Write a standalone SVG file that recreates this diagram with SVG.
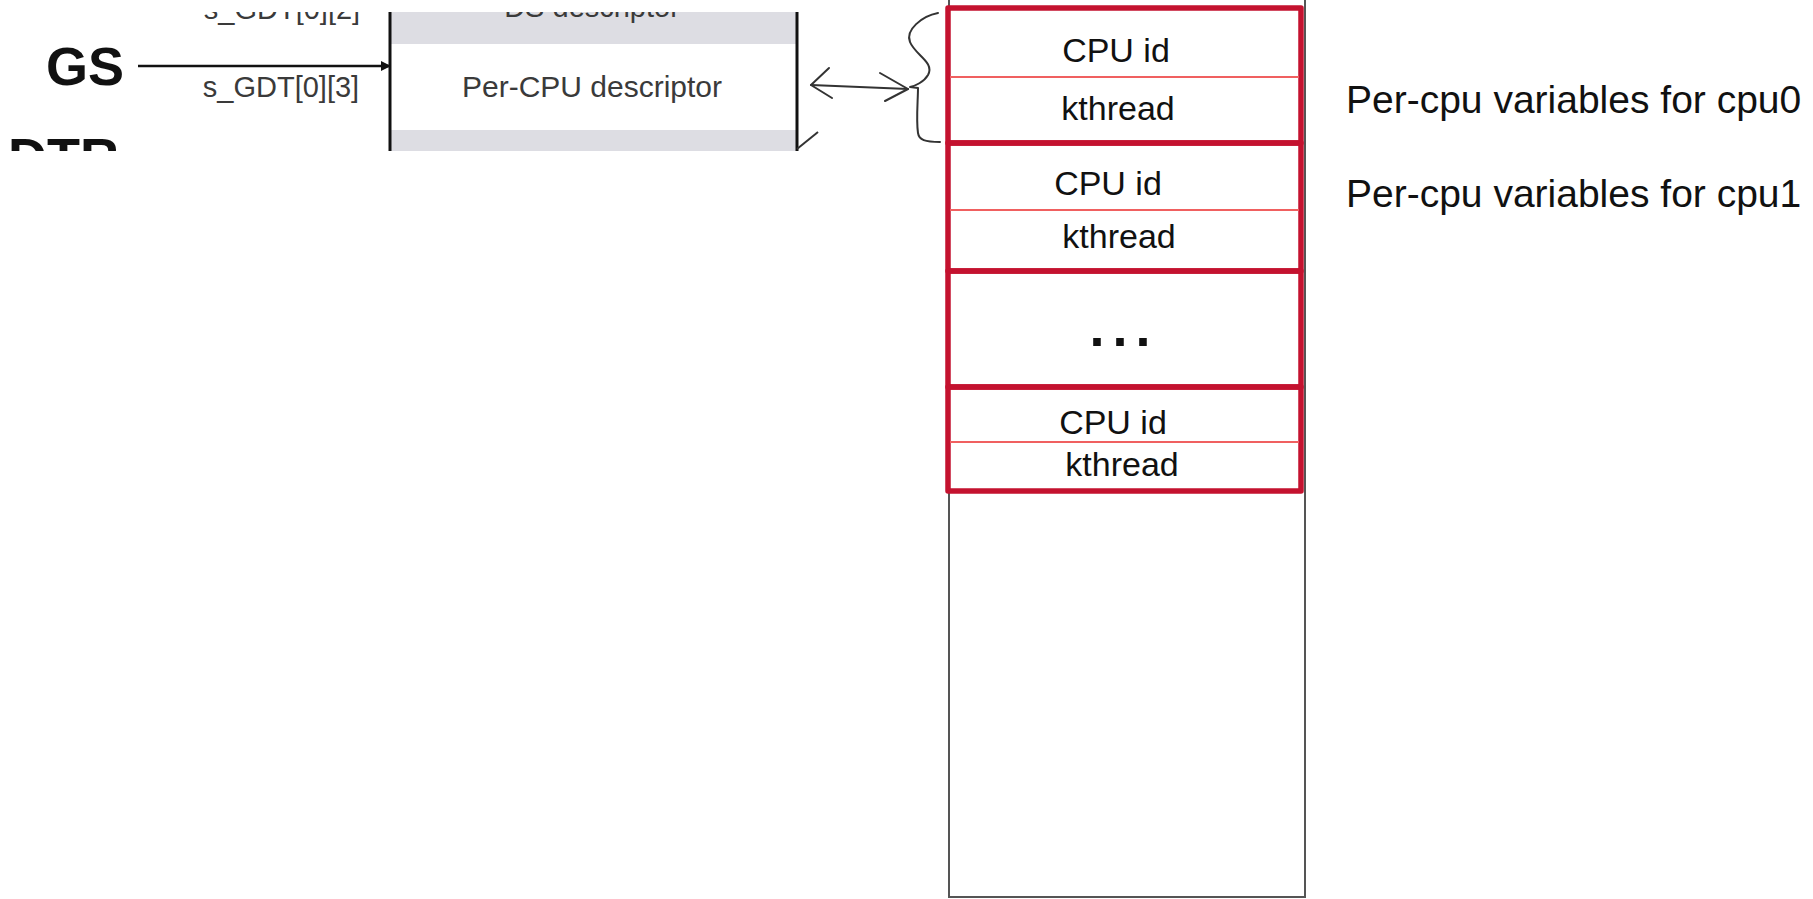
<svg xmlns="http://www.w3.org/2000/svg" width="1813" height="899" viewBox="0 0 1813 899">
<style>
.snap{font-family:"Liberation Sans",Arial,sans-serif;fill:#3a3a3a}
.big{font-family:"Liberation Sans",Arial,sans-serif;font-weight:bold;fill:#111;font-size:54px}
.cell{font-family:"Liberation Sans",Arial,sans-serif;font-size:34px;fill:#111;text-anchor:middle}
.dots{font-family:"Liberation Sans",Arial,sans-serif;font-size:54px;font-weight:bold;letter-spacing:8px;fill:#111;text-anchor:middle}
.note{font-family:"Liberation Sans",Arial,sans-serif;font-size:39px;fill:#111}
.grp{fill:none;stroke:#c4122f;stroke-width:5.5;stroke-linejoin:round}
.div{stroke:#f06060;stroke-width:2}
.hand{fill:none;stroke:#333;stroke-width:2;stroke-linecap:round;stroke-linejoin:round}
</style>
<defs>
<clipPath id="snapClip"><rect x="0" y="12" width="830" height="139"/></clipPath>
<marker id="tri" viewBox="0 0 10 10" refX="9" refY="5" markerWidth="10" markerHeight="10" markerUnits="userSpaceOnUse" orient="auto"><path d="M0,0 L10,5 L0,10 z" fill="#111"/></marker>
</defs>
<rect width="1813" height="899" fill="#fff"/>
<g id="gdt-snapshot" clip-path="url(#snapClip)">
<rect x="390" y="12" width="407" height="32" fill="#dddde3"/>
<rect x="390" y="130" width="407" height="21" fill="#dddde3"/>
<text class="snap" x="282" y="19" font-size="29" text-anchor="middle">s_GDT[0][2]</text>
<text class="snap" x="592" y="17" font-size="29" text-anchor="middle">DS descriptor</text>
<text class="big" x="46" y="85">GS</text>
<text class="big" x="8" y="176">DTR</text>
<text class="snap" x="281" y="97" font-size="29" text-anchor="middle">s_GDT[0][3]</text>
<text class="snap" x="592" y="97" font-size="30" text-anchor="middle">Per-CPU descriptor</text>
<line x1="390" y1="12" x2="390" y2="151" stroke="#111" stroke-width="3"/>
<line x1="797" y1="12" x2="797" y2="151" stroke="#111" stroke-width="3"/>
<line x1="797" y1="149" x2="818" y2="132" stroke="#333" stroke-width="2"/>
</g>
<g id="connectors">
<line x1="138" y1="66" x2="390" y2="66" stroke="#111" stroke-width="2.5" marker-end="url(#tri)"/>
<line class="hand" x1="811" y1="85" x2="908" y2="89"/>
<path class="hand" d="M829,68 L811,85 L832,98"/>
<path class="hand" d="M880,73 L908,89 L885,101"/>
<path class="hand" d="M938,13 C922,16 905,30 910,42 C915,55 935,62 928,75 C924,82 915,86 910,87 L918,88 C918,100 916,120 918,133 C919,140 925,142 940,142"/>
</g>
<g id="memory-column">
<rect x="949" y="-2" width="356" height="899" fill="none" stroke="#555" stroke-width="2"/>
</g>
<g id="cpu0-vars">
<rect class="grp" x="948" y="8" width="353" height="135"/>
<line class="div" x1="950" y1="77" x2="1299" y2="77"/>
<text class="cell" x="1116" y="62">CPU id</text>
<text class="cell" x="1118" y="120">kthread</text>
</g>
<g id="cpu1-vars">
<rect class="grp" x="948" y="143" width="353" height="128"/>
<line class="div" x1="950" y1="210" x2="1299" y2="210"/>
<text class="cell" x="1108" y="195">CPU id</text>
<text class="cell" x="1119" y="248">kthread</text>
</g>
<g id="ellipsis-vars">
<rect class="grp" x="948" y="271" width="353" height="116"/>
<text class="dots" x="1124" y="346">...</text>
</g>
<g id="cpuN-vars">
<rect class="grp" x="948" y="387" width="353" height="104"/>
<line class="div" x1="950" y1="442" x2="1299" y2="442"/>
<text class="cell" x="1113" y="434">CPU id</text>
<text class="cell" x="1122" y="476">kthread</text>
</g>
<g id="labels">
<text class="note" x="1346" y="113">Per-cpu variables for cpu0</text>
<text class="note" x="1346" y="207">Per-cpu variables for cpu1</text>
</g>
</svg>
